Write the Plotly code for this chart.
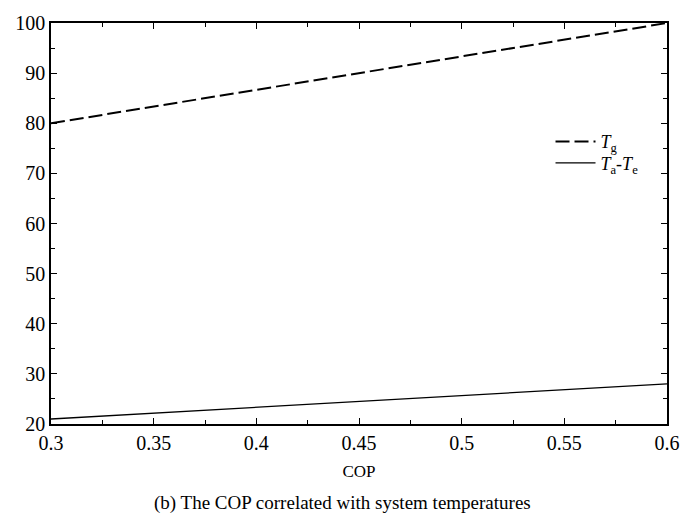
import plotly.graph_objects as go

# COP range and the two temperature series (°C)
cop = [0.3, 0.6]
t_generator = [80, 100]
t_lift = [21, 28]

x_ticks = [0.3, 0.35, 0.4, 0.45, 0.5, 0.55, 0.6]
x_tick_text = ["0.3", "0.35", "0.4", "0.45", "0.5", "0.55", "0.6"]
y_ticks = [20, 30, 40, 50, 60, 70, 80, 90, 100]

W, H = 692, 525
L, R, T, B = 51, 17, 12, 101
pw = W - L - R
ph = H - T - B

FONT = "Times New Roman"

fig = go.Figure()
fig.add_trace(go.Scatter(
    x=cop, y=t_generator, mode="lines",
    name="<i>T</i><sub>g</sub>", legend="legend",
    line=dict(color="black", width=2, dash="14px,5px"),
))
fig.add_trace(go.Scatter(
    x=cop, y=t_lift, mode="lines",
    name="<i>T</i><sub>a</sub>-<i>T</i><sub>e</sub>", legend="legend2",
    line=dict(color="black", width=1.3),
))

axis_common = dict(
    showgrid=False, zeroline=False,
    showline=True, linecolor="black", linewidth=1.5, mirror="ticks",
    ticks="inside", ticklen=6, tickwidth=1.2, tickcolor="black",
    tickfont=dict(family=FONT, size=20, color="black"),
)

fig.update_xaxes(
    range=[0.3, 0.6], tickvals=x_ticks, ticktext=x_tick_text,
    minor=dict(dtick=0.025, ticks="inside", ticklen=4, tickcolor="black", tickwidth=1),
    title=dict(text="COP", font=dict(family=FONT, size=17, color="black"), standoff=12),
    **axis_common,
)
fig.update_yaxes(
    range=[20, 100], tickvals=y_ticks,
    minor=dict(dtick=5, ticks="inside", ticklen=4, tickcolor="black", tickwidth=1),
    **axis_common,
)

# y-axis title sits almost entirely beyond the left edge of the page
fig.add_annotation(
    text="Temperature (°C)", textangle=-90,
    xref="paper", yref="paper", x=(0 - L) / pw, y=1 - (201 - T) / ph,
    xanchor="right", yanchor="middle", showarrow=False,
    font=dict(family=FONT, size=18, color="black"),
)

# caption below the chart
fig.add_annotation(
    text="(b) The COP correlated with system temperatures",
    xref="paper", yref="paper", x=(346 - L) / pw, y=-(505 - (H - B)) / ph,
    xanchor="center", yanchor="middle", showarrow=False,
    font=dict(family=FONT, size=19, color="black"),
)

legend_style = dict(
    xanchor="left", yanchor="middle",
    bgcolor="rgba(0,0,0,0)", borderwidth=0,
    font=dict(family=FONT, size=18, color="black"),
    itemwidth=40,
)

fig.update_layout(
    width=W, height=H,
    margin=dict(l=L, r=R, t=T, b=B),
    paper_bgcolor="white", plot_bgcolor="white",
    font=dict(family=FONT, color="black"),
    showlegend=True,
    legend=dict(x=(557 - L) / pw, y=1 - (134 - T) / ph, **legend_style),
    legend2=dict(x=(557 - L) / pw, y=1 - (156 - T) / ph, **legend_style),
)

fig.write_html("out.html")
